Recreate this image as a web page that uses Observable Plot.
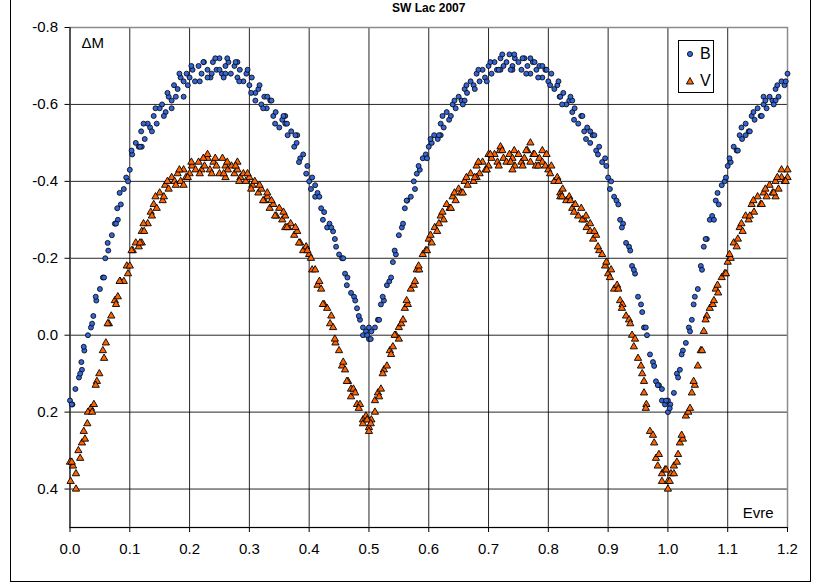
<!DOCTYPE html>
<html><head><meta charset="utf-8">
<script src="https://cdn.jsdelivr.net/npm/d3@7"></script>
<script src="https://cdn.jsdelivr.net/npm/@observablehq/plot@0.6"></script>
<style>
body{margin:0;background:#fff;font-family:"Liberation Sans",Arial,sans-serif}
#wrap{position:relative;width:813px;height:585px;overflow:hidden}
#outer{position:absolute;left:10px;top:-2px;width:801px;height:584px;border:1.5px solid #000;box-sizing:border-box;pointer-events:none}
#legend{position:absolute;left:678px;top:40px;width:36px;height:53px;border:1px solid #000;box-sizing:border-box;background:#fff;font-size:16px}
#legend .row{position:absolute;left:0;height:20px;line-height:20px}
#legend svg{position:absolute;left:6px;top:5px}
#legend span{position:absolute;left:21px;top:0}
</style></head>
<body><div id="wrap"><div id="outer"></div></div>
<script>
const title = "SW Lac 2007";
const yLabel = "ΔM";
const xLabel = "Evre";
const seriesNames = ["B", "V"];
const xTicks = [0.0,0.1,0.2,0.3,0.4,0.5,0.6,0.7,0.8,0.9,1.0,1.1,1.2];
const yTicks = [-0.8,-0.6,-0.4,-0.2,0.0,0.2,0.4];

const bPhase = [
0.000,0.004,0.009,0.015,0.019,0.024,0.030,0.035,0.039,0.044,0.050,0.055,0.059,0.064,0.070,0.075,0.079,0.085,0.090,0.094,
0.100,0.104,0.110,0.115,0.119,0.125,0.130,0.134,0.140,0.145,0.150,0.154,0.160,0.165,0.170,0.174,0.180,0.185,0.190,0.195,
0.200,0.205,0.209,0.215,0.220,0.224,0.230,0.235,0.239,0.245,0.250,0.254,0.260,0.265,0.269,0.275,0.280,0.284,0.290,0.295,
0.300,0.304,0.310,0.315,0.320,0.325,0.329,0.335,0.340,0.344,0.350,0.355,0.360,0.364,0.370,0.375,0.379,0.385,0.390,0.395,
0.400,0.405,0.410,0.414,0.420,0.425,0.430,0.434,0.440,0.445,0.450,0.455,0.460,0.464,0.470,0.475,0.480,0.485,0.490,0.495,
0.500,0.504,0.510,0.515,0.520,0.525,0.530,0.534,0.540,0.545,0.550,0.555,0.560,0.564,0.570,0.575,0.580,0.585,0.590,0.595,
0.600,0.605,0.609,0.615,0.620,0.625,0.630,0.634,0.640,0.645,0.650,0.655,0.660,0.664,0.670,0.675,0.680,0.685,0.690,0.694,
0.700,0.705,0.710,0.714,0.720,0.725,0.730,0.735,0.740,0.744,0.750,0.755,0.760,0.765,0.770,0.774,0.780,0.785,0.790,0.795,
0.800,0.805,0.810,0.815,0.819,0.825,0.830,0.835,0.840,0.844,0.850,0.855,0.860,0.865,0.870,0.874,0.880,0.885,0.890,0.895,
0.900,0.905,0.910,0.914,0.920,0.925,0.930,0.935,0.940,0.945,0.950,0.955,0.960,0.965,0.970,0.975,0.980,0.985,0.990,0.995,
1.000,1.004,1.010,1.015,1.020,1.025,1.030,1.035,1.040,1.045,1.050,1.055,1.060,1.065,1.070,1.074,1.080,1.085,1.090,1.095,
1.100,1.105,1.110,1.115,1.120,1.124,1.130,1.135,1.140,1.145,1.150,1.155,1.160,1.165,1.170,1.175,1.180,1.185,1.190,1.195,1.200,
0.17,0.19,0.23,0.26,0.28,0.31,0.33,0.36,0.38,0.41,0.12,0.08,0.02,0.72,0.74,0.77,0.79,0.82,0.84,0.87,0.66,0.62,1.13,1.16,1.18,0.99,1.00,0.50,0.49,0.25
];
const bMag = [
0.17,0.18,0.14,0.11,0.07,0.04,0.00,-0.02,-0.05,-0.09,-0.12,-0.15,-0.20,-0.22,-0.26,-0.29,-0.33,-0.34,-0.38,-0.41,
-0.43,-0.47,-0.50,-0.49,-0.53,-0.51,-0.55,-0.54,-0.57,-0.55,-0.59,-0.60,-0.58,-0.62,-0.61,-0.65,-0.64,-0.67,-0.66,-0.68,
-0.67,-0.69,-0.66,-0.70,-0.68,-0.71,-0.69,-0.67,-0.71,-0.69,-0.72,-0.68,-0.70,-0.71,-0.68,-0.70,-0.67,-0.69,-0.66,-0.68,
-0.65,-0.67,-0.63,-0.64,-0.60,-0.62,-0.59,-0.61,-0.57,-0.58,-0.54,-0.56,-0.55,-0.52,-0.53,-0.49,-0.50,-0.46,-0.47,-0.42,
-0.40,-0.41,-0.36,-0.37,-0.33,-0.32,-0.28,-0.29,-0.27,-0.23,-0.21,-0.20,-0.16,-0.15,-0.11,-0.10,-0.07,-0.04,-0.02,-0.01,
0.01,-0.01,-0.02,-0.04,-0.08,-0.09,-0.13,-0.14,-0.19,-0.21,-0.26,-0.28,-0.33,-0.35,-0.36,-0.40,-0.42,-0.43,-0.46,-0.47,
-0.49,-0.50,-0.52,-0.51,-0.55,-0.54,-0.58,-0.56,-0.60,-0.59,-0.62,-0.61,-0.64,-0.63,-0.66,-0.65,-0.68,-0.66,-0.69,-0.67,
-0.70,-0.68,-0.71,-0.69,-0.72,-0.70,-0.71,-0.73,-0.70,-0.72,-0.71,-0.69,-0.72,-0.70,-0.68,-0.71,-0.69,-0.70,-0.67,-0.69,
-0.66,-0.68,-0.64,-0.65,-0.62,-0.63,-0.60,-0.61,-0.58,-0.59,-0.55,-0.57,-0.53,-0.54,-0.50,-0.52,-0.48,-0.49,-0.45,-0.46,
-0.41,-0.40,-0.36,-0.35,-0.30,-0.29,-0.24,-0.23,-0.18,-0.16,-0.10,-0.08,-0.02,0.00,0.05,0.07,0.12,0.13,0.17,0.18,
0.20,0.18,0.15,0.10,0.09,0.04,0.02,-0.02,-0.04,-0.10,-0.12,-0.18,-0.23,-0.25,-0.30,-0.31,-0.35,-0.34,-0.39,-0.40,
-0.44,-0.45,-0.49,-0.48,-0.52,-0.51,-0.55,-0.53,-0.57,-0.56,-0.59,-0.57,-0.60,-0.59,-0.62,-0.61,-0.64,-0.62,-0.66,-0.65,-0.68,
-0.59,-0.62,-0.67,-0.68,-0.71,-0.61,-0.62,-0.57,-0.52,-0.39,-0.49,-0.30,0.09,-0.69,-0.69,-0.72,-0.70,-0.62,-0.61,-0.53,-0.61,-0.52,-0.52,-0.62,-0.61,0.14,0.17,-0.02,0.00,-0.69
];
const bPhase2 = [
0.003,0.017,0.023,0.037,0.043,0.057,0.063,0.077,0.083,0.097,
0.103,0.117,0.123,0.137,0.143,0.157,0.163,0.177,0.183,0.197,
0.203,0.217,0.223,0.237,0.243,0.257,0.263,0.277,0.283,0.297,
0.303,0.317,0.323,0.337,0.343,0.357,0.363,0.377,0.383,0.397,
0.403,0.417,0.423,0.437,0.443,0.457,0.463,0.477,0.483,0.497,
0.503,0.517,0.523,0.537,0.543,0.557,0.563,0.577,0.583,0.597,
0.603,0.617,0.623,0.637,0.643,0.657,0.663,0.677,0.683,0.697,
0.703,0.717,0.723,0.737,0.743,0.757,0.763,0.777,0.783,0.797,
0.803,0.817,0.823,0.837,0.843,0.857,0.863,0.877,0.883,0.897,
0.903,0.917,0.923,0.937,0.943,0.957,0.963,0.977,0.983,0.997,
1.003,1.017,1.023,1.037,1.043,1.057,1.063,1.077,1.083,1.097,
1.103,1.117,1.123,1.137,1.143,1.157,1.163,1.177,1.183,1.197
];
const bMag2 = [
0.18,0.10,0.03,-0.03,-0.10,-0.15,-0.24,-0.29,-0.37,-0.40,
-0.48,-0.49,-0.55,-0.53,-0.59,-0.57,-0.63,-0.62,-0.68,-0.65,
-0.70,-0.66,-0.71,-0.68,-0.72,-0.67,-0.72,-0.71,-0.66,-0.69,
-0.63,-0.65,-0.59,-0.61,-0.55,-0.57,-0.55,-0.52,-0.45,-0.44,
-0.38,-0.36,-0.30,-0.28,-0.25,-0.20,-0.13,-0.09,-0.05,0.00,
0.01,-0.04,-0.10,-0.15,-0.22,-0.29,-0.35,-0.38,-0.44,-0.46,
-0.51,-0.52,-0.57,-0.57,-0.61,-0.60,-0.65,-0.64,-0.69,-0.66,
-0.71,-0.69,-0.73,-0.69,-0.73,-0.72,-0.68,-0.71,-0.67,-0.69,
-0.65,-0.66,-0.60,-0.62,-0.56,-0.57,-0.51,-0.52,-0.47,-0.44,
-0.38,-0.34,-0.28,-0.22,-0.17,-0.06,-0.02,0.08,0.13,0.17,
0.19,0.11,0.05,-0.01,-0.08,-0.17,-0.25,-0.30,-0.37,-0.41,
-0.46,-0.48,-0.54,-0.53,-0.58,-0.57,-0.61,-0.60,-0.65,-0.66
];

const vPhase = [
0.001,0.005,0.010,0.014,0.020,0.025,0.029,0.035,0.040,0.045,0.049,0.055,0.060,0.065,0.069,0.075,0.080,0.084,0.090,0.095,
0.100,0.105,0.110,0.115,0.120,0.124,0.130,0.135,0.140,0.145,0.150,0.155,0.159,0.165,0.170,0.175,0.180,0.185,0.190,0.194,
0.200,0.204,0.210,0.215,0.220,0.225,0.230,0.234,0.240,0.245,0.250,0.255,0.260,0.264,0.270,0.275,0.280,0.285,0.290,0.294,
0.300,0.305,0.309,0.315,0.320,0.325,0.330,0.334,0.340,0.345,0.350,0.355,0.360,0.365,0.369,0.375,0.380,0.385,0.390,0.395,
0.400,0.405,0.410,0.414,0.420,0.425,0.430,0.435,0.440,0.444,0.450,0.455,0.460,0.465,0.470,0.474,0.480,0.485,0.490,0.495,
0.500,0.504,0.510,0.515,0.520,0.525,0.530,0.535,0.540,0.545,0.550,0.554,0.560,0.565,0.570,0.575,0.580,0.584,0.590,0.595,
0.600,0.605,0.610,0.614,0.620,0.625,0.630,0.635,0.640,0.645,0.650,0.654,0.660,0.665,0.670,0.675,0.680,0.685,0.690,0.695,
0.700,0.705,0.710,0.715,0.719,0.725,0.730,0.735,0.740,0.744,0.750,0.755,0.760,0.765,0.770,0.775,0.779,0.785,0.790,0.795,
0.800,0.805,0.810,0.815,0.820,0.824,0.830,0.835,0.840,0.845,0.850,0.855,0.860,0.864,0.870,0.875,0.880,0.885,0.890,0.895,
0.900,0.905,0.910,0.915,0.920,0.924,0.930,0.935,0.940,0.945,0.950,0.955,0.960,0.964,0.970,0.975,0.980,0.985,0.990,0.995,
1.000,1.005,1.010,1.015,1.020,1.025,1.030,1.034,1.040,1.045,1.050,1.055,1.060,1.065,1.070,1.075,1.080,1.084,1.090,1.095,
1.100,1.105,1.110,1.115,1.120,1.125,1.130,1.135,1.140,1.144,1.150,1.155,1.160,1.165,1.170,1.175,1.180,1.185,1.190,1.195,1.200,
0.23,0.26,0.28,0.19,0.33,0.36,0.12,0.03,0.01,0.00,0.72,0.77,0.79,0.74,0.82,0.87,0.99,1.00,1.01,0.50,0.49,0.51,0.47,0.96,1.18,1.19,1.20,0.68,0.70,0.55
];
const vMag = [
0.38,0.34,0.36,0.30,0.28,0.27,0.23,0.19,0.18,0.12,0.10,0.04,0.02,-0.03,-0.05,-0.09,-0.10,-0.14,-0.14,-0.18,
-0.18,-0.22,-0.24,-0.23,-0.27,-0.27,-0.29,-0.32,-0.34,-0.33,-0.37,-0.35,-0.39,-0.38,-0.41,-0.40,-0.42,-0.40,-0.43,-0.41,
-0.42,-0.44,-0.43,-0.45,-0.43,-0.44,-0.46,-0.43,-0.45,-0.44,-0.42,-0.46,-0.44,-0.43,-0.44,-0.42,-0.43,-0.41,-0.42,-0.40,
-0.41,-0.39,-0.40,-0.37,-0.38,-0.35,-0.36,-0.33,-0.34,-0.31,-0.33,-0.30,-0.31,-0.28,-0.29,-0.26,-0.27,-0.24,-0.22,-0.23,
-0.21,-0.17,-0.17,-0.13,-0.12,-0.08,-0.07,-0.03,-0.02,0.02,0.04,0.08,0.09,0.12,0.14,0.14,0.18,0.18,0.22,0.21,
0.24,0.22,0.20,0.15,0.14,0.09,0.08,0.04,0.03,0.00,-0.02,-0.03,-0.07,-0.08,-0.12,-0.13,-0.17,-0.17,-0.21,-0.22,
-0.25,-0.24,-0.28,-0.27,-0.31,-0.30,-0.34,-0.33,-0.36,-0.35,-0.38,-0.37,-0.40,-0.39,-0.42,-0.40,-0.44,-0.42,-0.45,-0.43,
-0.44,-0.46,-0.47,-0.45,-0.48,-0.46,-0.45,-0.47,-0.46,-0.44,-0.47,-0.45,-0.46,-0.48,-0.45,-0.47,-0.44,-0.46,-0.45,-0.44,
-0.43,-0.44,-0.40,-0.41,-0.37,-0.38,-0.35,-0.36,-0.33,-0.34,-0.31,-0.33,-0.30,-0.28,-0.27,-0.25,-0.26,-0.22,-0.21,-0.18,
-0.16,-0.17,-0.12,-0.13,-0.09,-0.08,-0.05,-0.04,0.00,0.01,0.06,0.08,0.15,0.18,0.25,0.26,0.32,0.31,0.36,0.35,
0.38,0.36,0.34,0.33,0.28,0.27,0.21,0.20,0.15,0.13,0.08,0.04,-0.01,-0.05,-0.07,-0.08,-0.12,-0.11,-0.15,-0.16,
-0.19,-0.20,-0.24,-0.23,-0.28,-0.27,-0.31,-0.30,-0.34,-0.32,-0.36,-0.34,-0.37,-0.36,-0.39,-0.37,-0.40,-0.38,-0.41,-0.40,-0.43,
-0.47,-0.41,-0.45,-0.39,-0.37,-0.28,-0.24,0.20,0.40,0.33,-0.49,-0.50,-0.48,-0.43,-0.36,-0.29,0.38,0.40,0.36,0.25,0.23,0.17,0.16,0.12,-0.36,-0.43,-0.41,-0.41,-0.47,0.01
];
const vPhase2 = bPhase2.slice();
const vMag2 = [
0.33,0.32,0.25,0.20,0.13,0.06,-0.03,-0.08,-0.14,-0.16,
-0.22,-0.24,-0.29,-0.31,-0.36,-0.36,-0.40,-0.39,-0.43,-0.41,
-0.45,-0.42,-0.46,-0.42,-0.46,-0.42,-0.45,-0.44,-0.40,-0.42,
-0.38,-0.39,-0.35,-0.35,-0.31,-0.32,-0.28,-0.28,-0.24,-0.22,
-0.20,-0.14,-0.08,-0.05,0.01,0.07,0.12,0.15,0.19,0.22,
0.23,0.16,0.10,0.05,0.00,-0.04,-0.09,-0.14,-0.18,-0.22,
-0.26,-0.29,-0.32,-0.33,-0.37,-0.37,-0.41,-0.41,-0.45,-0.43,
-0.47,-0.44,-0.48,-0.45,-0.48,-0.44,-0.48,-0.47,-0.44,-0.47,
-0.42,-0.40,-0.36,-0.35,-0.32,-0.30,-0.31,-0.27,-0.23,-0.19,
-0.15,-0.12,-0.07,-0.03,0.03,0.10,0.19,0.28,0.34,0.35,
0.38,0.31,0.26,0.19,0.12,0.04,-0.04,-0.09,-0.13,-0.16,
-0.21,-0.25,-0.29,-0.31,-0.35,-0.34,-0.38,-0.37,-0.41,-0.40
];

const bData = bPhase.concat(bPhase2).map((p, i) => ({phase: p, mag: bMag.concat(bMag2)[i]}));
const vData = vPhase.concat(vPhase2).map((p, i) => ({phase: p, mag: vMag.concat(vMag2)[i]}));
const fmt = d => d.toFixed(1);
const bColor = "#3566d6", vColor = "#ff6400";

const chart = Plot.plot({
  width: 813, height: 585,
  marginLeft: 69.5, marginRight: 26, marginTop: 27, marginBottom: 58,
  x: {domain: [0, 1.2]},
  y: {domain: [-0.8, 0.5], reverse: true},
  style: {fontFamily: "'Liberation Sans', Arial, sans-serif", fontSize: "15px", color: "#000", background: "transparent", overflow: "visible"},
  marks: [
    Plot.gridX(xTicks.slice(1, -1), {stroke: "#000", strokeOpacity: 0.85, strokeWidth: 1}),
    Plot.gridY(yTicks.slice(1), {stroke: "#000", strokeOpacity: 0.85, strokeWidth: 1}),
    Plot.frame({stroke: "#8c8c8c", strokeWidth: 1.5}),
    Plot.ruleX([0], {stroke: "#000", strokeWidth: 1}),
    Plot.ruleY([0.5], {stroke: "#000", strokeWidth: 1}),
    Plot.axisY({ticks: yTicks, tickSize: 5, tickPadding: 7, tickFormat: fmt, label: null, fontSize: 15}),
    Plot.axisX({ticks: xTicks, tickSize: 5, tickPadding: 11, tickFormat: fmt, label: null, fontSize: 15}),
    Plot.dot(bData, {x: "phase", y: "mag", r: 2.5, fill: bColor, stroke: "#000", strokeWidth: 0.8}),
    Plot.dot(vData, {x: "phase", y: "mag", r: 2.7, symbol: "triangle", fill: vColor, stroke: "#000", strokeWidth: 0.9}),
    Plot.text([yLabel], {frameAnchor: "top-left", dx: 11.5, dy: 16, lineAnchor: "middle", textAnchor: "start", fontSize: 15}),
    Plot.text([xLabel], {frameAnchor: "bottom-right", dx: -14, dy: -14.5, lineAnchor: "middle", textAnchor: "end", fontSize: 15}),
    Plot.text([title], {frameAnchor: "top", dy: -19, lineAnchor: "middle", fontWeight: "bold", fontSize: 12})
  ]
});
const wrap = document.getElementById("wrap");
wrap.insertBefore(chart, wrap.firstChild);

const legend = document.createElement("div");
legend.id = "legend";
legend.innerHTML =
  `<div class="row" style="top:3px;width:34px"><svg width="10" height="10"><circle cx="5" cy="5" r="2.6" fill="${bColor}" stroke="#000" stroke-width="0.8"/></svg><span>${seriesNames[0]}</span></div>` +
  `<div class="row" style="top:30px;width:34px"><svg width="10" height="10"><path d="M5,1.5 L8.6,8 L1.4,8 Z" fill="${vColor}" stroke="#000" stroke-width="0.9"/></svg><span>${seriesNames[1]}</span></div>`;
wrap.appendChild(legend);
</script>
</body></html>
